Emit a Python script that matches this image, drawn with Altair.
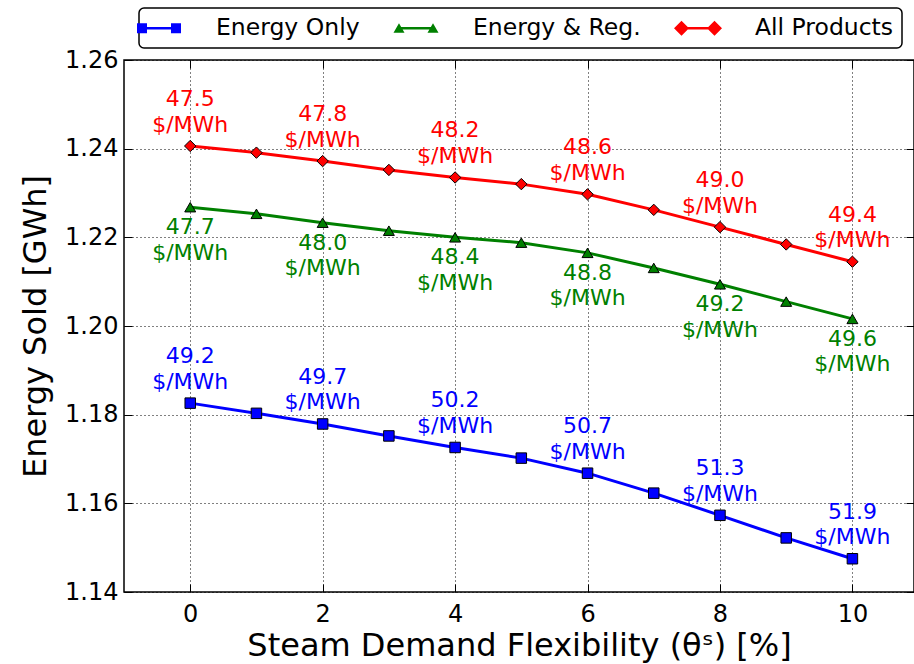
import altair as alt
import pandas as pd

# Energy sold [GWh] at each steam demand flexibility level [%]
flexibility = [0, 1, 2, 3, 4, 5, 6, 7, 8, 9, 10]
energy_only = [1.1826, 1.1803, 1.1779, 1.1752, 1.1726, 1.1702, 1.1668, 1.1623, 1.1573, 1.1522, 1.1475]
energy_reg = [1.2268, 1.2253, 1.2233, 1.2215, 1.2200, 1.2188, 1.2165, 1.2131, 1.2094, 1.2055, 1.2016]
all_products = [1.2406, 1.2391, 1.2372, 1.2352, 1.2335, 1.2320, 1.2297, 1.2262, 1.2223, 1.2184, 1.2145]

# Average energy price [$/MWh] annotated at every other flexibility level
price_flex = [0, 2, 4, 6, 8, 10]
price_energy_only = [49.2, 49.7, 50.2, 50.7, 51.3, 51.9]
price_energy_reg = [47.7, 48.0, 48.4, 48.8, 49.2, 49.6]
price_all_products = [47.5, 47.8, 48.2, 48.6, 49.0, 49.4]

series_names = ["Energy Only", "Energy & Reg.", "All Products"]
series_colors = ["#0000ff", "#008000", "#ff0000"]
series_markers = ["square", "triangle-up", "diamond"]
marker_sizes = [110, 130, 175]
label_side = ["above", "below", "above"]

x_ticks = [0, 2, 4, 6, 8, 10]
y_ticks = [1.14, 1.16, 1.18, 1.20, 1.22, 1.24, 1.26]

# Legend glyphs: a short line with a marker at each end (unit = sqrt(symbolSize)/2)
line_part = "M-1.417,-0.104H1.417V0.104H-1.417Z"
legend_glyphs = [
    line_part + " M-1.833,-0.417H-1V0.417H-1.833Z M1,-0.417H1.833V0.417H1Z",
    line_part + " M-1.875,0.375L-1.417,-0.417L-0.958,0.375Z M0.958,0.375L1.417,-0.417L1.875,0.375Z",
    line_part + " M-2,0L-1.375,-0.625L-0.75,0L-1.375,0.625Z M0.75,0L1.375,-0.625L2,0L1.375,0.625Z",
]

rows = []
for name, values, prices, side in zip(
    series_names,
    [energy_only, energy_reg, all_products],
    [price_energy_only, price_energy_reg, price_all_products],
    label_side,
):
    price_at = dict(zip(price_flex, prices))
    for f, v in zip(flexibility, values):
        p = price_at.get(f)
        rows.append({
            "flex": f,
            "sold": v,
            "series": name,
            "side": side,
            "label": f"{p:.1f}\n$/MWh" if p is not None else "",
        })
df = pd.DataFrame(rows)

W, H = 790, 532
FONT = "DejaVu Sans"

x_scale = alt.Scale(domain=[-1, 10.93], nice=False, zero=False)
y_scale = alt.Scale(domain=[1.14, 1.26], nice=False, zero=False)


def color_enc(legend=None):
    if legend is None:
        return alt.Color("series:N", scale=alt.Scale(domain=series_names, range=series_colors), legend=None)
    return alt.Color("series:N", scale=alt.Scale(domain=series_names, range=series_colors), legend=legend)


x_main = alt.Axis(
    orient="bottom", values=x_ticks, title="Steam Demand Flexibility (θˢ) [%]",
    ticks=False, domain=False, grid=True, gridColor="black", gridDash=[1, 3],
    gridWidth=1, gridOpacity=1, labelFontSize=24, labelColor="black",
    labelPadding=10, labelFlush=False, titleFontSize=32, titleFontWeight="normal",
    titleColor="black", titlePadding=4, labelFont=FONT, titleFont=FONT,
)
y_main = alt.Axis(
    orient="left", values=y_ticks, format=".2f", title="Energy Sold [GWh]",
    ticks=False, domain=False, grid=True, gridColor="black", gridDash=[1, 3],
    gridWidth=1, gridOpacity=1, labelFontSize=24, labelColor="black",
    labelPadding=6, labelFlush=False, titleFontSize=32, titleFontWeight="normal",
    titleColor="black", titlePadding=12, labelFont=FONT, titleFont=FONT,
)


def tick_axis(orient, offset, values):
    # inward-pointing tick marks drawn on the opposite frame edge
    return alt.Axis(
        orient=orient, offset=offset, values=values, labels=False, title=None,
        domain=False, grid=False, ticks=True, tickSize=8, tickColor="black", tickWidth=1,
    )


base = alt.Chart(df)

lines = base.mark_line(strokeWidth=3).encode(
    x=alt.X("flex:Q", scale=x_scale, axis=x_main),
    y=alt.Y("sold:Q", scale=y_scale, axis=y_main),
    color=color_enc(),
    detail="series:N",
)

points = base.mark_point(filled=True, opacity=1, stroke="black", strokeWidth=1).encode(
    x=alt.X("flex:Q", scale=x_scale, axis=tick_axis("top", -H, x_ticks)),
    y=alt.Y("sold:Q", scale=y_scale, axis=tick_axis("right", -W, y_ticks)),
    color=color_enc(),
    shape=alt.Shape("series:N", scale=alt.Scale(domain=series_names, range=series_markers), legend=None),
    size=alt.Size("series:N", scale=alt.Scale(domain=series_names, range=marker_sizes), legend=None),
)


def price_labels(side, dy):
    return base.transform_filter(
        f"datum.label != '' && datum.side == '{side}'"
    ).mark_text(
        font=FONT, fontSize=22, lineBreak="\n", lineHeight=25.5,
        align="center", baseline="top", dy=dy,
    ).encode(
        x=alt.X("flex:Q", scale=x_scale, axis=None),
        y=alt.Y("sold:Q", scale=y_scale, axis=None),
        text="label:N",
        color=color_enc(),
    )


labels_above = price_labels("above", -57)
labels_below = price_labels("below", 10)

legend = alt.Legend(
    title=None, orient="none", legendX=15, legendY=-52, direction="horizontal",
    columns=3, columnPadding=33, padding=8, strokeColor="black", fillColor="white",
    cornerRadius=5, labelFont=FONT, labelFontSize=23.5, labelColor="black",
    labelOffset=45, labelLimit=0, symbolSize=576, symbolStrokeWidth=0, symbolOpacity=1,
)

legend_layer = base.mark_point(filled=True, opacity=0, strokeWidth=0).encode(
    x=alt.X("flex:Q", scale=x_scale, axis=tick_axis("bottom", -H, x_ticks)),
    y=alt.Y("sold:Q", scale=y_scale, axis=tick_axis("left", -W, y_ticks)),
    color=color_enc(legend),
    shape=alt.Shape("series:N", scale=alt.Scale(domain=series_names, range=legend_glyphs), legend=legend),
)

chart = alt.layer(
    lines, points, labels_above, labels_below, legend_layer
).resolve_scale(
    color="independent", shape="independent", size="independent"
).resolve_axis(
    x="independent", y="independent"
).properties(
    width=W, height=H,
    autosize=alt.AutoSizeParams(type="none"),
    padding={"left": 124, "top": 60, "right": 0, "bottom": 72},
).configure(
    font=FONT,
).configure_view(
    stroke="black", strokeWidth=1.5,
).configure_legend(
    strokeWidth=1.5,
)

chart.save("out.html", embed_options={"renderer": "svg", "actions": False})
